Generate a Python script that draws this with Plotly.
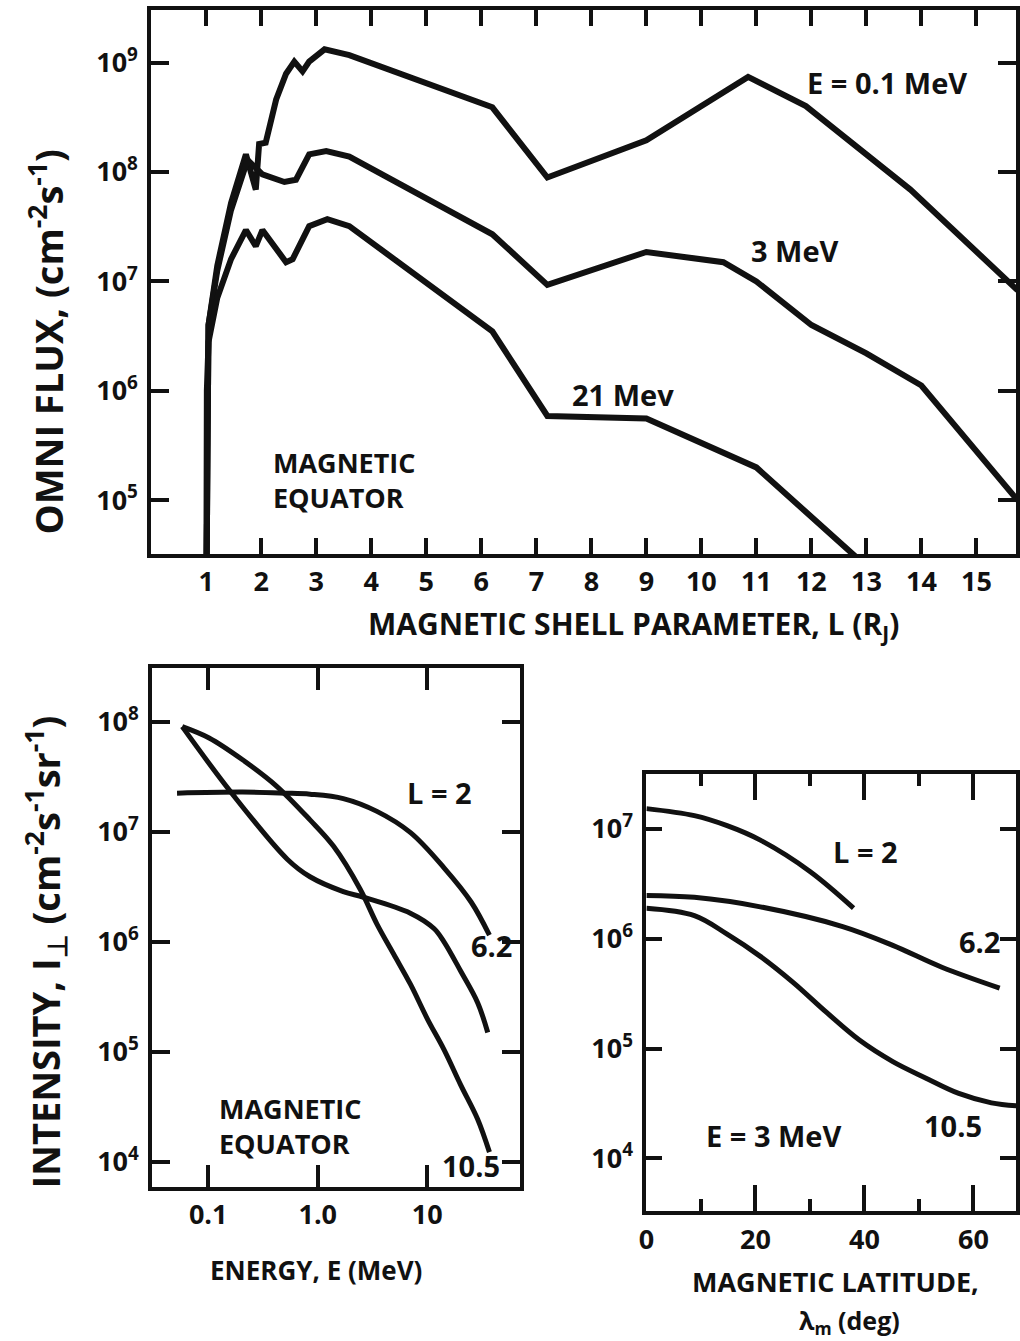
import plotly.graph_objects as go

# ---------------- data: top panel (omni flux vs L) ----------------
L_01 = [1.00, 1.01, 1.04, 1.20, 1.45, 1.72, 1.90, 1.96, 2.08, 2.27, 2.45, 2.60, 2.75, 2.87, 3.15, 3.60,
        6.20, 7.20, 9.00, 10.85, 11.90, 13.80, 15.75]
F_01 = [1e4, 1.0e6, 4.0e6, 1.4e7, 5.2e7, 1.45e8, 6.9e7, 1.8e8, 1.85e8, 4.6e8, 7.9e8, 1.02e9, 8.3e8, 1.02e9,
        1.32e9, 1.17e9, 3.9e8, 8.9e7, 1.95e8, 7.4e8, 4.0e8, 6.9e7, 8.3e6]

L_3 = [1.00, 1.01, 1.04, 1.20, 1.45, 1.75, 2.02, 2.42, 2.63, 2.87, 3.18, 3.60, 6.20, 7.20, 9.00, 10.40,
       11.00, 12.00, 13.00, 14.00, 15.00, 15.75]
F_3 = [1e4, 1.0e6, 4.0e6, 1.26e7, 4.5e7, 1.29e8, 9.5e7, 8.1e7, 8.5e7, 1.45e8, 1.55e8, 1.38e8, 2.7e7, 9.3e6,
       1.86e7, 1.5e7, 1.0e7, 4.0e6, 2.2e6, 1.12e6, 2.75e5, 1.0e5]

L_21 = [1.00, 1.01, 1.04, 1.20, 1.45, 1.72, 1.90, 2.02, 2.45, 2.57, 2.87, 3.20, 3.60, 6.20, 7.20, 9.00, 11.00, 13.00]
F_21 = [1e4, 1.0e6, 2.8e6, 7.1e6, 1.6e7, 2.95e7, 2.1e7, 2.95e7, 1.5e7, 1.6e7, 3.2e7, 3.7e7, 3.2e7, 3.5e6,
        5.9e5, 5.6e5, 2.0e5, 2.5e4]

L_ticks = list(range(1, 16))
flux_ticks = [1e5, 1e6, 1e7, 1e8, 1e9]
flux_ticktext = ["10<sup>5</sup>", "10<sup>6</sup>", "10<sup>7</sup>", "10<sup>8</sup>", "10<sup>9</sup>"]

# ---------------- data: bottom-left (intensity vs energy) ----------------
E_L2 = [0.052, 0.206, 0.50, 0.85, 1.71, 3.47, 7.03, 14.2, 25.1, 36.9]
I_L2 = [2.24e7, 2.29e7, 2.24e7, 2.19e7, 2.0e7, 1.53e7, 9.8e6, 4.7e6, 2.3e6, 1.15e6]

E_L62 = [0.058, 0.164, 0.53, 0.85, 1.71, 2.62, 7.0, 11.5, 14.2, 20.2, 28.8, 35.6]
I_L62 = [9.0e7, 2.24e7, 5.6e6, 3.9e6, 2.86e6, 2.54e6, 1.82e6, 1.32e6, 1.0e6, 5.4e5, 2.8e5, 1.5e5]

E_L105 = [0.058, 0.102, 0.206, 0.42, 0.85, 1.39, 2.44, 3.47, 4.94, 7.03, 10.0, 14.2, 20.2, 28.8, 36.9]
I_L105 = [9.0e7, 7.1e7, 4.5e7, 2.6e7, 1.28e7, 7.4e6, 3.0e6, 1.45e6, 7.7e5, 4.1e5, 2.0e5, 1.05e5, 5.0e4,
          2.45e4, 1.23e4]

E_ticks = [0.1, 1.0, 10]
E_ticktext = ["0.1", "1.0", "10"]
I_ticks = [1e4, 1e5, 1e6, 1e7, 1e8]
I_ticktext = ["10<sup>4</sup>", "10<sup>5</sup>", "10<sup>6</sup>", "10<sup>7</sup>", "10<sup>8</sup>"]

# ---------------- data: bottom-right (intensity vs latitude) ----------------
lat_L2 = [0, 8.8, 14.8, 20.9, 30.0, 38.0]
Ilat_L2 = [1.53e7, 1.32e7, 1.07e7, 7.9e6, 4.1e6, 1.9e6]

lat_L62 = [0, 8.8, 20.9, 36.0, 45.2, 54.2, 64.8]
Ilat_L62 = [2.48e6, 2.38e6, 1.95e6, 1.29e6, 8.7e5, 5.5e5, 3.55e5]

lat_L105 = [0, 8.8, 14.8, 20.9, 26.9, 33.0, 39.0, 45.2, 51.2, 57.3, 63.3, 68.0]
Ilat_L105 = [1.89e6, 1.62e6, 1.1e6, 6.9e5, 4.0e5, 2.14e5, 1.2e5, 7.6e4, 5.4e4, 3.9e4, 3.2e4, 3.0e4]

lat_ticks = [0, 20, 40, 60]
Ilat_ticks = [1e4, 1e5, 1e6, 1e7]
Ilat_ticktext = ["10<sup>4</sup>", "10<sup>5</sup>", "10<sup>6</sup>", "10<sup>7</sup>"]

# ---------------- figure ----------------
W, H = 1020, 1341
FONT = "Open Sans"
INK = "#111111"


def px(x):
    return x / W


def py(y):
    return 1 - y / H


fig = go.Figure()

line_top = dict(color=INK, width=6)
for xs, ys in [(L_01, F_01), (L_3, F_3), (L_21, F_21)]:
    fig.add_trace(go.Scatter(x=xs, y=ys, mode="lines", line=line_top, xaxis="x", yaxis="y",
                             hoverinfo="skip", showlegend=False))

line_bl = dict(color=INK, width=5, shape="spline", smoothing=1.0)
for xs, ys in [(E_L2, I_L2), (E_L62, I_L62), (E_L105, I_L105)]:
    fig.add_trace(go.Scatter(x=xs, y=ys, mode="lines", line=line_bl, xaxis="x2", yaxis="y2",
                             hoverinfo="skip", showlegend=False))

for xs, ys in [(lat_L2, Ilat_L2), (lat_L62, Ilat_L62), (lat_L105, Ilat_L105)]:
    fig.add_trace(go.Scatter(x=xs, y=ys, mode="lines", line=line_bl, xaxis="x3", yaxis="y3",
                             hoverinfo="skip", showlegend=False))

tickfont = dict(family=FONT, size=27, color=INK, weight="bold")
axis_common = dict(showline=True, linecolor=INK, linewidth=4, mirror="ticks", ticks="inside",
                   tickcolor=INK, tickwidth=4, showgrid=False, zeroline=False, tickfont=tickfont)

fig.update_layout(
    width=W, height=H,
    margin=dict(l=0, r=0, t=0, b=0),
    paper_bgcolor="white", plot_bgcolor="white",
    font=dict(family=FONT, color=INK, weight="bold"),
    showlegend=False,
    xaxis=dict(domain=[px(145), 1.0], anchor="y", range=[0, 15.72], tickvals=L_ticks,
               ticklen=16, ticklabelstandoff=1, **axis_common),
    yaxis=dict(domain=[py(554), py(10)], anchor="x", type="log", range=[4.51, 9.48],
               tickvals=flux_ticks, ticktext=flux_ticktext, ticklen=18, ticklabelstandoff=4,
               **axis_common),
    xaxis2=dict(domain=[px(146), px(518)], anchor="y2", type="log", range=[-1.51, 1.845],
                tickvals=E_ticks, ticktext=E_ticktext, ticklen=22, ticklabelstandoff=1, **axis_common),
    yaxis2=dict(domain=[py(1187), py(668)], anchor="x2", type="log", range=[3.773, 8.487],
                tickvals=I_ticks, ticktext=I_ticktext, ticklen=18, ticklabelstandoff=4, **axis_common),
    xaxis3=dict(domain=[px(646), 1.0], anchor="y3", range=[0, 67.8], tickvals=lat_ticks,
                ticklen=26, ticklabelstandoff=2,
                minor=dict(tickvals=[10, 30, 50], ticklen=12, tickwidth=4, tickcolor=INK, ticks="inside"),
                **axis_common),
    yaxis3=dict(domain=[py(1211), py(774)], anchor="x3", type="log", range=[3.52, 7.5],
                tickvals=Ilat_ticks, ticktext=Ilat_ticktext, ticklen=16, ticklabelstandoff=4,
                **axis_common),
)


def label(x, y, text, size=29, xanchor="center", angle=0, align="center"):
    fig.add_annotation(x=px(x), y=py(y), xref="paper", yref="paper", text=text, showarrow=False,
                       xanchor=xanchor, yanchor="middle", textangle=angle, align=align,
                       font=dict(family=FONT, size=size, color=INK, weight="bold"))


# top panel texts
label(889, 82, "E = 0.1 MeV", 29)
label(796, 251, "3 MeV", 29)
label(622, 395, "21 Mev", 29)
label(266, 480, "MAGNETIC<br>EQUATOR", 27, xanchor="left", align="left")
label(633, 625, "MAGNETIC SHELL PARAMETER, L (R<sub>J</sub>)", 30)
label(38, 342, "OMNI FLUX, (cm<sup>-2</sup>s<sup>-1</sup>)", 38, angle=-90)

# bottom-left texts
label(437, 792, "L = 2", 29)
label(489, 945, "6.2", 29)
label(469, 1165, "10.5", 29)
label(211, 1126, "MAGNETIC<br>EQUATOR", 27, xanchor="left", align="left")
label(312, 1270, "ENERGY, E (MeV)", 26)
label(38, 952, "INTENSITY, I<sub>⊥</sub> (cm<sup>-2</sup>s<sup>-1</sup>sr<sup>-1</sup>)", 38, angle=-90)

# bottom-right texts
label(868, 851, "L = 2", 29)
label(983, 942, "6.2", 29)
label(956, 1125, "10.5", 29)
label(775, 1135, "E = 3 MeV", 29)
label(690, 1281, "MAGNETIC LATITUDE,", 27, xanchor="left")
label(852, 1321, "λ<sub>m</sub> (deg)", 25)

fig.write_html("out.html", config={"displayModeBar": False})
